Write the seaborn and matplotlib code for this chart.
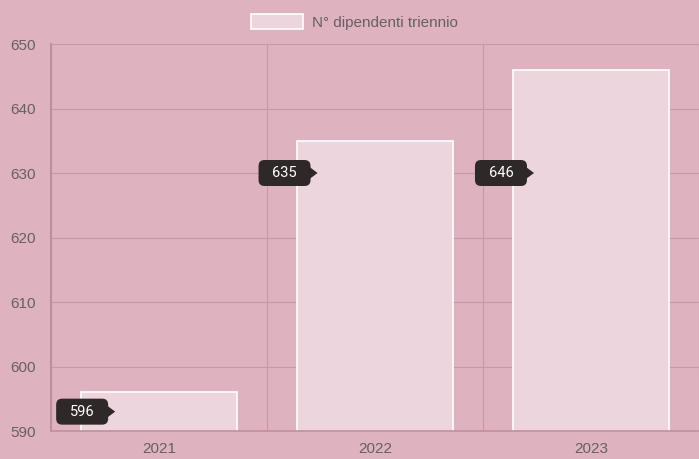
import numpy as np
import matplotlib.pyplot as plt
import matplotlib.transforms as mtransforms
from matplotlib.patches import Patch, FancyBboxPatch, Polygon
import seaborn as sns

# dati
anni = ['2021', '2022', '2023']
dipendenti = [596, 635, 646]
tooltip_y = [593, 630, 630]          # dove stanno i tooltip (valori asse y)
tooltip_dx = [-0.203, -0.266, -0.264]  # spostamento punta tooltip dal centro categoria
etichetta = 'N° dipendenti triennio'

sfondo = '#dfb2c0'
barra = '#ecd5dd'
griglia = '#c997a7'
testo = '#666064'
scuro = '#2e2829'

sns.set_theme(style='white')
plt.rcParams['font.family'] = ['Liberation Sans', 'DejaVu Sans']

fig = plt.figure(figsize=(6.99, 4.59), dpi=100, facecolor=sfondo)
ax = fig.add_axes([51 / 699, 28 / 459, 648 / 699, 387 / 459])
ax.set_facecolor(sfondo)

sns.barplot(x=anni, y=dipendenti, ax=ax, width=0.72, color=barra,
            edgecolor='white', linewidth=1.2, saturation=1)

ax.set_ylim(590, 650)
ax.set_xlim(-0.5, 2.5)
ax.set_yticks(np.arange(590, 651, 10))
ax.set_xticks([-0.5, 0.5, 1.5, 2.5], minor=True)
ax.tick_params(axis='x', which='major', length=0, pad=8, labelsize=11, labelcolor=testo)
ax.tick_params(axis='x', which='minor', length=12, width=0.8, color=griglia)
ax.tick_params(axis='y', length=9, width=0.8, color=griglia, pad=2, labelsize=11, labelcolor=testo)
ax.grid(True, axis='y', color=griglia, linewidth=0.8)
ax.grid(True, axis='x', which='minor', color=griglia, linewidth=0.8)
ax.set_axisbelow(True)
for s in ['top', 'right']:
    ax.spines[s].set_visible(False)
ax.spines['left'].set_color('#b88d9b')
ax.spines['bottom'].set_color('#c490a1')
ax.set_xlabel('')
ax.set_ylabel('')

# tooltip scuri con freccetta (disegnati in pixel)
pix = mtransforms.IdentityTransform()
for i, (v, ty, dx) in enumerate(zip(dipendenti, tooltip_y, tooltip_dx)):
    tx, tyy = ax.transData.transform((i + dx, ty))
    bw, bh, aw = 52, 26, 7
    x0 = tx - aw - bw
    box = FancyBboxPatch((x0, tyy - bh / 2), bw, bh, boxstyle='round,pad=0,rounding_size=6',
                         fc=scuro, ec='none', transform=pix, zorder=5, clip_on=False)
    tri = Polygon([(tx - aw - 1, tyy + 6), (tx, tyy), (tx - aw - 1, tyy - 6)], closed=True,
                  fc=scuro, ec='none', transform=pix, zorder=5, clip_on=False)
    ax.add_artist(box)
    ax.add_artist(tri)
    ax.text(x0 + bw / 2, tyy, str(v), transform=pix, ha='center', va='center',
            color='white', fontsize=10.5, family=['Roboto', 'DejaVu Sans'], zorder=6)

# legenda
fig.legend(handles=[Patch(facecolor=barra, edgecolor='white', linewidth=1.2, label=etichetta)],
           loc='center', bbox_to_anchor=(354.5 / 699, 1 - 22 / 459), frameon=False,
           handlelength=3.4, handleheight=1.1, handletextpad=0.6,
           fontsize=11, labelcolor=testo)

fig.savefig('out.png', dpi=100, facecolor=sfondo)
